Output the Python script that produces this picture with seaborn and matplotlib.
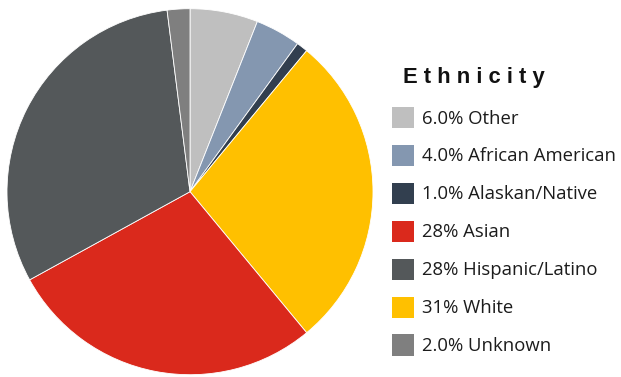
import numpy as np
import matplotlib
matplotlib.use("Agg")
import matplotlib.pyplot as plt
from matplotlib.patches import Patch
import seaborn as sns

# ------------------------------
# Data
# ------------------------------
# wedges as they appear on the pie, clockwise from 12 o'clock
wedge_names = ["Other", "African American", "Alaskan/Native", "White",
               "Asian", "Hispanic/Latino", "Unknown"]
wedge_sizes = [6.0, 4.0, 1.0, 28.0, 28.0, 31.0, 2.0]

# legend entries, as printed next to the chart
legend_names = ["Other", "African American", "Alaskan/Native", "Asian",
                "Hispanic/Latino", "White", "Unknown"]
legend_pcts = ["6.0%", "4.0%", "1.0%", "28%", "28%", "31%", "2.0%"]

colors = {
    "Other": "#BFBFBF",
    "African American": "#8497B0",
    "Alaskan/Native": "#323F4F",
    "Asian": "#DA291C",
    "Hispanic/Latino": "#54585A",
    "White": "#FFC000",
    "Unknown": "#7F7F7F",
}

# ------------------------------
# Figure
# ------------------------------
sns.set_style("white")
plt.rcParams["font.family"] = ["Open Sans", "DejaVu Sans"]

fig = plt.figure(figsize=(6.21, 3.77), dpi=100)
ax = fig.add_axes([7 / 621, 2.3 / 377, 366 / 621, 366 / 377])

ax.pie(wedge_sizes,
       colors=[colors[n] for n in wedge_names],
       startangle=90, counterclock=False, radius=1,
       wedgeprops=dict(edgecolor="white", linewidth=0.6))
ax.set_xlim(-1, 1)
ax.set_ylim(-1, 1)
ax.set_aspect("equal")
ax.axis("off")

# ------------------------------
# Legend
# ------------------------------
handles = [Patch(facecolor=colors[n], edgecolor="none") for n in legend_names]
labels = [f"{p} {n}" for p, n in zip(legend_pcts, legend_names)]

fig.text(403 / 621, 1 - 77 / 377, "E t h n i c i t y",
         family="Liberation Sans", fontweight="bold", fontsize=15.8,
         color="#111111", va="center", ha="left")

fig.legend(handles, labels,
           loc="upper left", bbox_to_anchor=(391.7 / 621, 1 - 106.7 / 377),
           frameon=False, fontsize=13.3, labelcolor="#1c1c1c",
           handlelength=1.2, handleheight=1.4, handletextpad=0.45,
           labelspacing=0.9, borderpad=0, borderaxespad=0)

fig.savefig("out.png", dpi=100)
